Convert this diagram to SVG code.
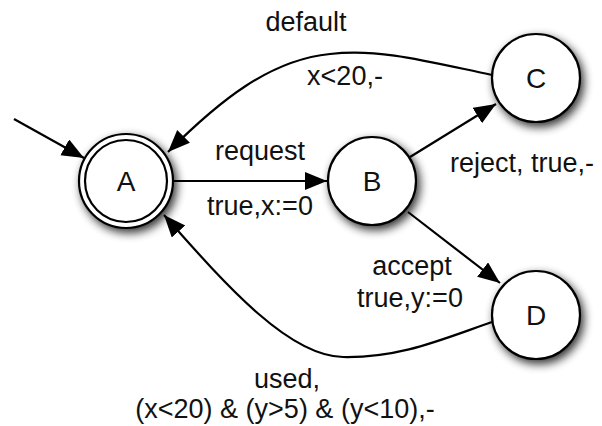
<svg xmlns="http://www.w3.org/2000/svg" width="602" height="426" viewBox="0 0 602 426">
<style>
.node{fill:#fff;stroke:#000;stroke-width:2.2}
.edge{fill:none;stroke:#000;stroke-width:2.2}
.lbl{font-family:"Liberation Sans",Arial,sans-serif;font-size:27px;fill:#111;text-anchor:middle}
.name{font-family:"Liberation Sans",Arial,sans-serif;font-size:28px;fill:#111;text-anchor:middle}
</style>
<defs>
<filter id="sh" x="-40%" y="-40%" width="180%" height="180%">
<feGaussianBlur in="SourceAlpha" stdDeviation="5"/>
<feOffset dx="3" dy="4" result="b"/>
<feComponentTransfer><feFuncA type="linear" slope="0.8"/></feComponentTransfer>
<feMerge><feMergeNode/><feMergeNode in="SourceGraphic"/></feMerge>
</filter>
<marker id="arr" markerUnits="userSpaceOnUse" markerWidth="24" markerHeight="20" refX="22" refY="9" orient="auto">
<path d="M0,0 L22,9 L0,18 z" fill="#000"/>
</marker>
</defs>
<rect width="602" height="426" fill="#fff"/>
<g id="connectors">
<line class="edge" x1="14" y1="119" x2="84" y2="158" marker-end="url(#arr)"/>
<line class="edge" x1="174" y1="181" x2="327" y2="181" marker-end="url(#arr)"/>
<line class="edge" x1="410" y1="157" x2="496" y2="104" marker-end="url(#arr)"/>
<line class="edge" x1="408" y1="212" x2="500" y2="283" marker-end="url(#arr)"/>
<path class="edge" d="M492,75 C430,62 380,48 330,54 C270,60 220,100 168,152" marker-end="url(#arr)"/>
<path class="edge" d="M492,322 C440,340 400,358 343,357 C290,356 230,290 164,215" marker-end="url(#arr)"/>
</g>
<g id="labels">
<text class="lbl" x="306" y="31">default</text>
<text class="lbl" x="345" y="85">x&lt;20,-</text>
<text class="lbl" x="260" y="160">request</text>
<text class="lbl" x="260" y="215">true,x:=0</text>
<text class="lbl" x="522" y="172">reject, true,-</text>
<text class="lbl" x="412" y="275">accept</text>
<text class="lbl" x="410" y="307">true,y:=0</text>
<text class="lbl" x="287" y="388">used,</text>
<text class="lbl" x="285" y="418">(x&lt;20) &amp; (y&gt;5) &amp; (y&lt;10),-</text>
</g>
<g id="A">
<circle class="node" cx="126" cy="181" r="47" filter="url(#sh)"/>
<circle class="node" cx="126" cy="181" r="41"/>
<text class="name" x="126" y="191">A</text>
</g>
<g id="B">
<circle class="node" cx="372" cy="181" r="44" filter="url(#sh)"/>
<text class="name" x="372" y="191">B</text>
</g>
<g id="C">
<circle class="node" cx="536" cy="78" r="44" filter="url(#sh)"/>
<text class="name" x="536" y="88">C</text>
</g>
<g id="D">
<circle class="node" cx="536" cy="315" r="44" filter="url(#sh)"/>
<text class="name" x="536" y="325">D</text>
</g>
</svg>
